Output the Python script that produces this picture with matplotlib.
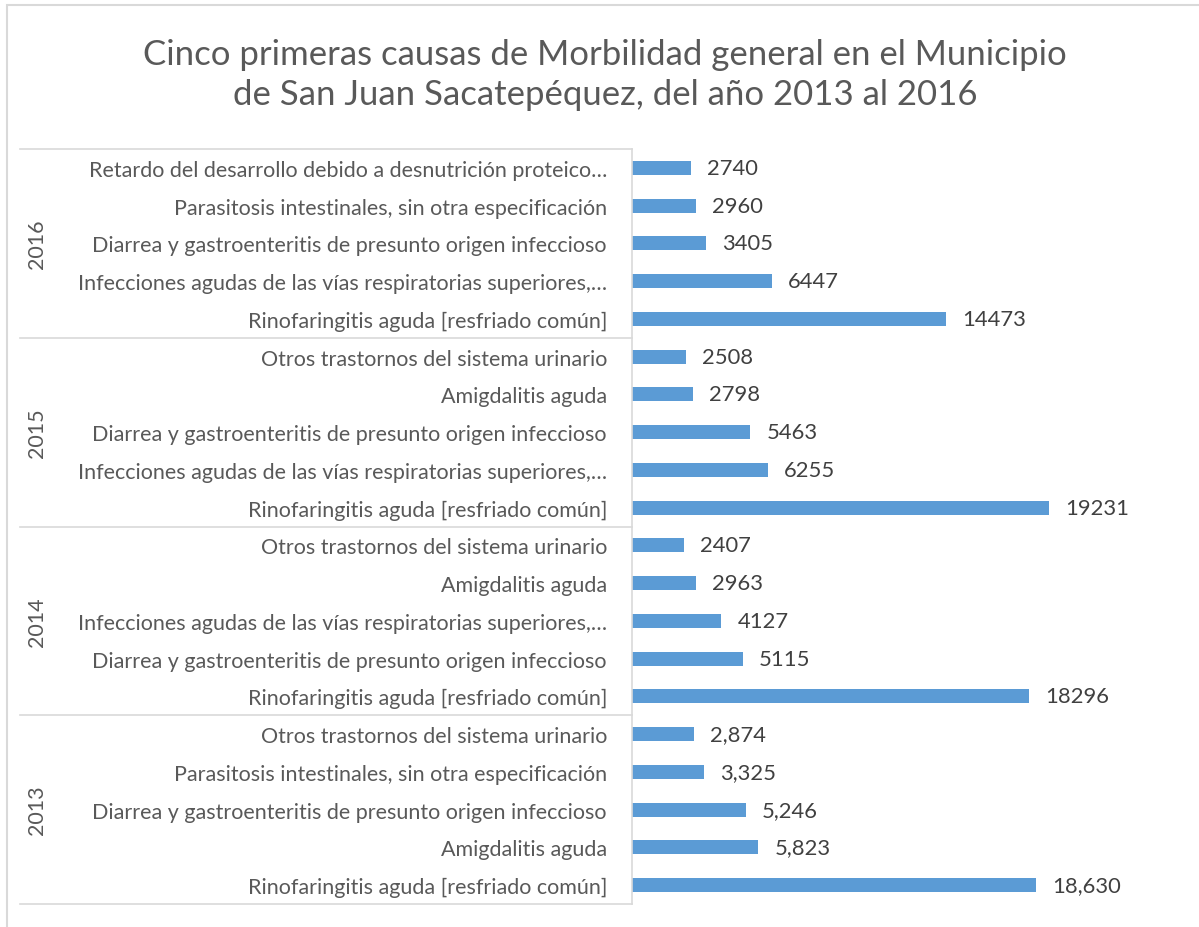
import matplotlib
matplotlib.use("Agg")
import matplotlib.pyplot as plt
from matplotlib.patches import Rectangle
from matplotlib.lines import Line2D

plt.rcParams['font.family'] = ['Lato', 'DejaVu Sans']

title = "Cinco primeras causas de Morbilidad general en el Municipio\nde San Juan Sacatepéquez, del año 2013 al 2016"

years = ["2016", "2015", "2014", "2013"]

causes_2016 = ["Retardo del desarrollo debido a desnutrición proteico…",
               "Parasitosis intestinales, sin otra especificación",
               "Diarrea y gastroenteritis de presunto origen infeccioso",
               "Infecciones agudas de las vías respiratorias superiores,…",
               "Rinofaringitis aguda [resfriado común]"]
values_2016 = [2740, 2960, 3405, 6447, 14473]

causes_2015 = ["Otros trastornos del sistema urinario",
               "Amigdalitis aguda",
               "Diarrea y gastroenteritis de presunto origen infeccioso",
               "Infecciones agudas de las vías respiratorias superiores,…",
               "Rinofaringitis aguda [resfriado común]"]
values_2015 = [2508, 2798, 5463, 6255, 19231]

causes_2014 = ["Otros trastornos del sistema urinario",
               "Amigdalitis aguda",
               "Infecciones agudas de las vías respiratorias superiores,…",
               "Diarrea y gastroenteritis de presunto origen infeccioso",
               "Rinofaringitis aguda [resfriado común]"]
values_2014 = [2407, 2963, 4127, 5115, 18296]

causes_2013 = ["Otros trastornos del sistema urinario",
               "Parasitosis intestinales, sin otra especificación",
               "Diarrea y gastroenteritis de presunto origen infeccioso",
               "Amigdalitis aguda",
               "Rinofaringitis aguda [resfriado común]"]
values_2013 = [2874, 3325, 5246, 5823, 18630]

groups = [(years[0], causes_2016, values_2016, "{:d}"),
          (years[1], causes_2015, values_2015, "{:d}"),
          (years[2], causes_2014, values_2014, "{:d}"),
          (years[3], causes_2013, values_2013, "{:,d}")]

W, H = 1199, 928
fig = plt.figure(figsize=(W / 100, H / 100), dpi=100)

# layout in pixels
ax_l, ax_r, ax_t, ax_b = 632, 1190, 150, 905
ax = fig.add_axes([ax_l / W, 1 - ax_b / H, (ax_r - ax_l) / W, (ax_b - ax_t) / H])

bar_color = "#5B9BD5"
text_gray = "#595959"
grid_gray = "#D9D9D9"

labels, vals, fmts = [], [], []
for yr, cs, vs, f in groups:
    labels += cs
    vals += vs
    fmts += [f] * len(vs)

n = len(vals)
ypos = list(range(n))
bars = ax.barh(ypos, vals, height=0.37, color=bar_color)
ax.set_ylim(n - 0.5, -0.5)
px_per_unit = (1036 - 632) / 18630
ax.set_xlim(0, (ax_r - ax_l) / px_per_unit)

ax.bar_label(bars, labels=[f.format(v) for f, v in zip(fmts, vals)],
             padding=11.5, fontsize=15.8, color="#404040")

ax.set_yticks(ypos)
ax.set_yticklabels(labels, fontsize=15.5, color=text_gray)
ax.tick_params(axis='y', length=0, pad=18)
ax.set_xticks([])
for s in ["top", "right", "bottom"]:
    ax.spines[s].set_visible(False)
ax.spines["left"].set_color(grid_gray)
ax.spines["left"].set_linewidth(1.2)

# group separators and year labels
x_left = (20 - ax_l) / (ax_r - ax_l)
x_year = (37 - ax_l) / (ax_r - ax_l)
trans = ax.get_yaxis_transform()
start = 0
for yr, cs, vs, f in groups:
    k = len(vs)
    ax.add_line(Line2D([x_left, 0], [start - 0.5, start - 0.5], transform=trans,
                       color=grid_gray, lw=1.2, clip_on=False))
    ax.text(x_year, start + (k - 1) / 2, yr, transform=trans, rotation=90,
            ha="center", va="center", fontsize=15.5, color=text_gray)
    start += k
ax.add_line(Line2D([x_left, 0], [start - 0.5, start - 0.5], transform=trans,
                   color=grid_gray, lw=1.2, clip_on=False))

# title
fig.text(605 / W, 1 - 75 / H, title, ha="center", va="center",
         fontsize=25, color=text_gray, linespacing=1.3)

# chart border (extends past right/bottom edges)
fig.patches.append(Rectangle((7 / W, -0.1), 1.2, 1 - 6 / H + 0.1,
                             transform=fig.transFigure, fill=False,
                             edgecolor=grid_gray, lw=1.5))

fig.savefig("out.png", dpi=100)
